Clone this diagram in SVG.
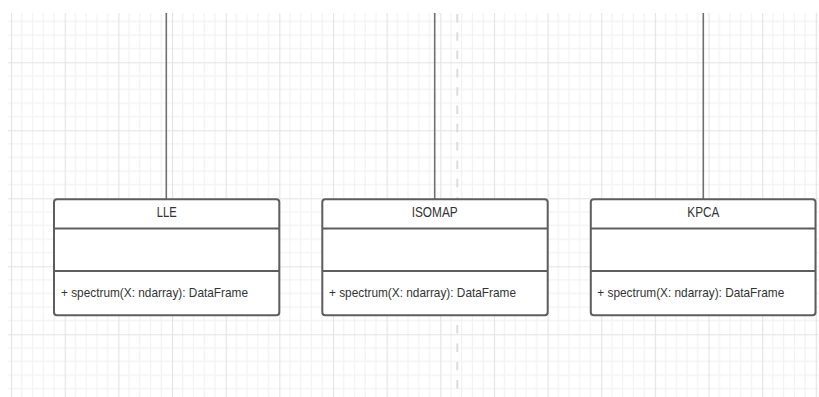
<svg xmlns="http://www.w3.org/2000/svg" width="819" height="397" viewBox="0 0 819 397">
  <defs>
    <!-- drawing-area grid: 5 minor cells per major cell -->
    <pattern id="grid" patternUnits="userSpaceOnUse" x="64.7" y="62.3" width="53.65" height="68">
      <g stroke="#f2f2f2" stroke-width="1.2">
        <line x1="10.73" y1="0" x2="10.73" y2="68"/>
        <line x1="21.46" y1="0" x2="21.46" y2="68"/>
        <line x1="32.19" y1="0" x2="32.19" y2="68"/>
        <line x1="42.92" y1="0" x2="42.92" y2="68"/>
        <line x1="0" y1="13.6" x2="53.65" y2="13.6"/>
        <line x1="0" y1="27.2" x2="53.65" y2="27.2"/>
        <line x1="0" y1="40.8" x2="53.65" y2="40.8"/>
        <line x1="0" y1="54.4" x2="53.65" y2="54.4"/>
      </g>
      <g stroke="#e3e3e3" stroke-width="1.2">
        <line x1="0.5" y1="0" x2="0.5" y2="68"/>
        <line x1="0" y1="0.5" x2="53.65" y2="0.5"/>
      </g>
    </pattern>
  </defs>
  <style>
    .box { fill: #ffffff; stroke: #5e5e5e; stroke-width: 2; }
    .sep { stroke: #5e5e5e; stroke-width: 2; }
    .link { stroke: #6f6f6f; stroke-width: 1.6; fill: none; }
    .title { font-family: "Liberation Sans", Arial, sans-serif; font-size: 14.5px; fill: #333333; text-anchor: middle; }
    .member { font-family: "Liberation Sans", Arial, sans-serif; font-size: 13.5px; fill: #333333; }
  </style>

  <rect x="0" y="0" width="819" height="397" fill="#ffffff"/>
  <rect x="8" y="13" width="811" height="384" fill="url(#grid)"/>

  <!-- page boundary -->
  <line x1="457.3" y1="14" x2="457.3" y2="397" stroke="#dcdcdc" stroke-width="2" stroke-dasharray="8.5 9.8"/>

  <!-- connectors -->
  <g id="connectors">
    <line class="link" x1="166.3" y1="13" x2="166.3" y2="199"/>
    <line class="link" x1="434.7" y1="13" x2="434.7" y2="199"/>
    <line class="link" x1="703.3" y1="13" x2="703.3" y2="199"/>
  </g>

  <g id="lle">
    <rect class="box" x="54" y="199.3" width="225.3" height="116" rx="3"/>
    <line class="sep" x1="54" y1="228.5" x2="279.3" y2="228.5"/>
    <line class="sep" x1="54" y1="271" x2="279.3" y2="271"/>
    <text class="title" x="166.7" y="216.5" textLength="20" lengthAdjust="spacingAndGlyphs">LLE</text>
    <text class="member" x="61" y="297" textLength="187" lengthAdjust="spacingAndGlyphs">+ spectrum(X: ndarray): DataFrame</text>
  </g>

  <g id="isomap">
    <rect class="box" x="322.3" y="199.3" width="225.4" height="116" rx="3"/>
    <line class="sep" x1="322.3" y1="228.5" x2="547.7" y2="228.5"/>
    <line class="sep" x1="322.3" y1="271" x2="547.7" y2="271"/>
    <text class="title" x="434.7" y="216.5" textLength="46" lengthAdjust="spacingAndGlyphs">ISOMAP</text>
    <text class="member" x="329" y="297" textLength="187" lengthAdjust="spacingAndGlyphs">+ spectrum(X: ndarray): DataFrame</text>
  </g>

  <g id="kpca">
    <rect class="box" x="590.8" y="199.3" width="224.7" height="116" rx="3"/>
    <line class="sep" x1="590.8" y1="228.5" x2="815.5" y2="228.5"/>
    <line class="sep" x1="590.8" y1="271" x2="815.5" y2="271"/>
    <text class="title" x="703.3" y="216.5" textLength="32" lengthAdjust="spacingAndGlyphs">KPCA</text>
    <text class="member" x="597.3" y="297" textLength="187" lengthAdjust="spacingAndGlyphs">+ spectrum(X: ndarray): DataFrame</text>
  </g>
</svg>
